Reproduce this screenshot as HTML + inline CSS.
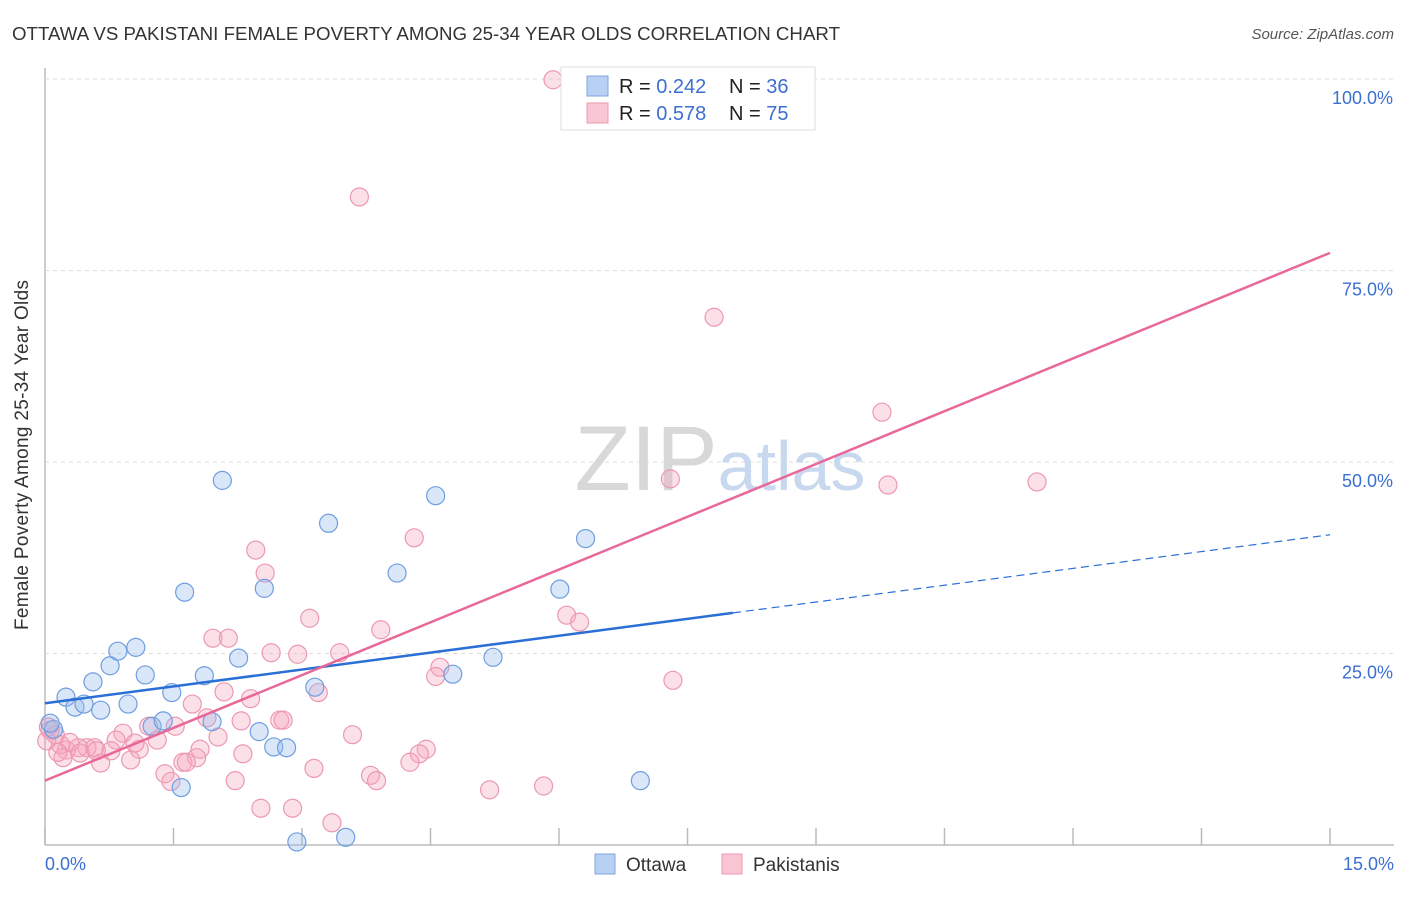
<!DOCTYPE html>
<html><head><meta charset="utf-8"><style>
body{margin:0;background:#fff;font-family:"Liberation Sans",sans-serif;}
svg text{font-family:"Liberation Sans",sans-serif;}
</style></head><body>
<svg width="1406" height="892" xmlns="http://www.w3.org/2000/svg">
<text x="12" y="40" font-size="18" fill="#333" textLength="828" lengthAdjust="spacingAndGlyphs">OTTAWA VS PAKISTANI FEMALE POVERTY AMONG 25-34 YEAR OLDS CORRELATION CHART</text>
<text x="1394" y="39" font-size="15" fill="#555" text-anchor="end" font-style="italic">Source: ZipAtlas.com</text>
<g id="grid"></g>
<text x="720" y="490" font-size="92" fill="#ddd" text-anchor="middle" font-family="Liberation Serif"><tspan fill="#d8d8d8">ZIP</tspan><tspan fill="#c8d8ee" font-family="Liberation Sans" font-size="70">atlas</tspan></text>
<g id="pts"></g>
<g id="lines"></g>
<text x="28" y="455" font-size="19" fill="#333" text-anchor="middle" transform="rotate(-90 28 455)" textLength="350">Female Poverty Among 25-34 Year Olds</text>
<text x="45" y="870" font-size="18" fill="#3b6fd1">0.0%</text>
<text x="1394" y="870" font-size="18" fill="#3b6fd1" text-anchor="end">15.0%</text>
<g>
<rect x="561" y="67" width="254" height="63" fill="#fff" stroke="#ddd"/>
<rect x="587" y="76" width="21" height="20" fill="#b8d0f4" stroke="#7fa6e0"/>
<rect x="587" y="103" width="21" height="20" fill="#f9c6d4" stroke="#ec98b1"/>
<text x="619" y="93" font-size="20" fill="#222">R = <tspan fill="#3b6fd1">0.242</tspan></text>
<text x="729" y="93" font-size="20" fill="#222">N = <tspan fill="#3b6fd1">36</tspan></text>
<text x="619" y="120" font-size="20" fill="#222">R = <tspan fill="#3b6fd1">0.578</tspan></text>
<text x="729" y="120" font-size="20" fill="#222">N = <tspan fill="#3b6fd1">75</tspan></text>
</g>
<g>
<rect x="595" y="854" width="20" height="20" fill="#b8d0f4" stroke="#7fa6e0"/>
<text x="626" y="871" font-size="19" fill="#333">Ottawa</text>
<rect x="722" y="854" width="20" height="20" fill="#f9c6d4" stroke="#ec98b1"/>
<text x="753" y="871" font-size="19" fill="#333">Pakistanis</text>
</g>
</svg>
<script>
const yTicks=[25,50,75,100];
const yTickLabels=["25.0%","50.0%","75.0%","100.0%"];
const xTicks=[0,1.5,3,4.5,6,7.5,9,10.5,12,13.5,15];
const ottawaX=[0.245,0.35,0.455,0.56,0.65,0.76,0.85,0.97,1.06,1.17,1.25,1.38,1.48,1.59,1.63,1.86,1.95,2.07,2.26,2.50,2.56,2.67,2.82,2.94,3.15,3.31,3.51,4.11,4.56,4.76,5.23,6.01,6.31,6.95,0.1,0.06];
const ottawaY=[19.3,18.0,18.4,21.3,17.6,23.4,25.3,18.4,25.8,22.2,15.5,16.2,19.9,7.5,33.0,22.1,16.1,47.6,24.4,14.8,33.5,12.8,12.7,0.4,20.6,42.0,1.0,35.5,45.6,22.3,24.5,33.4,40.0,8.4,15.1,15.9];
const pakX=[5.93,3.67,7.81,9.77,7.30,9.84,11.58,2.46,4.31,2.57,6.09,6.24,3.09,1.96,2.14,3.92,2.64,2.95,3.44,4.61,4.56,7.33,3.19,2.40,2.09,1.72,1.89,2.29,1.52,1.21,0.91,0.83,1.31,2.02,2.74,2.78,3.59,4.45,4.37,4.26,2.31,1.81,1.77,1.61,1.65,1.40,1.47,2.22,3.14,3.80,3.87,5.19,5.82,2.52,2.89,3.35,1.00,0.65,1.10,0.77,0.49,0.58,0.39,0.25,0.18,0.29,0.12,0.06,0.04,0.21,0.41,1.05,0.02,0.60,0.15];
const pakY=[99.9,84.6,68.9,56.5,47.8,47.0,47.4,38.5,40.1,35.5,30.0,29.1,29.6,27.0,27.0,28.1,25.1,24.9,25.1,23.2,22.0,21.5,19.9,19.1,20.0,18.4,16.6,16.2,15.5,15.5,14.6,13.7,13.7,14.1,16.3,16.3,14.4,12.5,11.9,10.8,11.9,12.5,11.4,10.8,10.8,9.3,8.3,8.4,10.0,9.1,8.4,7.2,7.7,4.8,4.8,2.9,11.1,10.7,12.5,12.3,12.7,12.7,12.7,12.4,13.1,13.4,14.4,15.0,15.4,11.4,12.0,13.3,13.6,12.3,12.1];
const blueLine=[[0,18.5],[8.03,30.3],[15,40.5]];
const pinkLine=[[0,8.4],[15,77.3]];
const NS="http://www.w3.org/2000/svg";
const X=v=>45+v/15*1285, Y=v=>845-v/100*766;
function mk(t,a,p){const e=document.createElementNS(NS,t);for(const k in a)e.setAttribute(k,a[k]);p.appendChild(e);return e;}
const g=document.getElementById('grid');
let ax=mk('line',{x1:45,y1:68,x2:45,y2:845,stroke:'#bbb','stroke-width':1.5},g);

let bx=mk('line',{x1:45,y1:845,x2:1394,y2:845,stroke:'#bbb','stroke-width':1.5},g);

yTicks.forEach((t,i)=>{
 const l=mk('line',{x1:45,y1:Y(t),x2:1394,y2:Y(t),stroke:'#ddd','stroke-dasharray':'4,4'},g);
 
 const tx=mk('text',{x:1393,y:Y(t)+25,'font-size':18,fill:'#3b6fd1','text-anchor':'end'},g);
 tx.textContent=yTickLabels[i];
 
});
xTicks.forEach(t=>{
 const l=mk('line',{x1:X(t),y1:828,x2:X(t),y2:845,stroke:'#bbb','stroke-width':1.5},g);
 
});
const p=document.getElementById('pts');
pakX.forEach((x,i)=>{
 const c=mk('circle',{cx:X(x),cy:Y(pakY[i]),r:9,fill:'rgba(246,166,190,0.35)',stroke:'#ec98b1','stroke-width':1.2},p);
 
});
ottawaX.forEach((x,i)=>{
 const c=mk('circle',{cx:X(x),cy:Y(ottawaY[i]),r:9,fill:'rgba(150,185,235,0.35)',stroke:'#6f9ee0','stroke-width':1.2},p);
 
});
const L=document.getElementById('lines');
let a=mk('line',{x1:X(blueLine[0][0]),y1:Y(blueLine[0][1]),x2:X(blueLine[1][0]),y2:Y(blueLine[1][1]),stroke:'#2a6fd6','stroke-width':2.5},L);

let b=mk('line',{x1:X(blueLine[1][0]),y1:Y(blueLine[1][1]),x2:X(blueLine[2][0]),y2:Y(blueLine[2][1]),stroke:'#2a6fd6','stroke-width':1.2,'stroke-dasharray':'8,5'},L);

let c=mk('line',{x1:X(pinkLine[0][0]),y1:Y(pinkLine[0][1]),x2:X(pinkLine[1][0]),y2:Y(pinkLine[1][1]),stroke:'#e8689a','stroke-width':2.5},L);

</script>
</body></html>
